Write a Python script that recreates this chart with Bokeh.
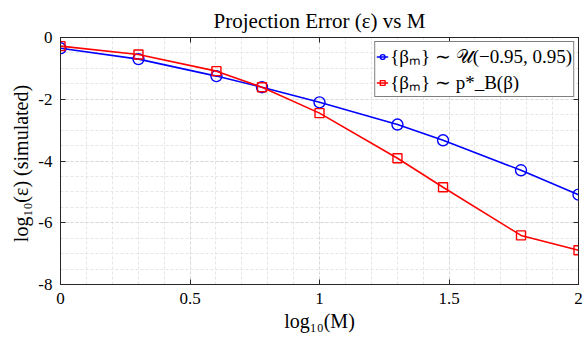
from bokeh.plotting import figure
from bokeh.models import Range1d, LinearAxis, FixedTicker, Legend, LegendItem
from bokeh.embed import file_html
from bokeh.resources import INLINE

# data
log_M = [0.0, 0.301, 0.602, 0.778, 1.0, 1.301, 1.477, 1.778, 2.0]
err_uniform = [-0.35, -0.70, -1.25, -1.61, -2.10, -2.82, -3.33, -4.30, -5.09]
err_pb = [-0.28, -0.55, -1.09, -1.61, -2.45, -3.91, -4.85, -6.41, -6.89]
x_ticks = [0, 0.5, 1, 1.5, 2]
x_tick_labels = ["0", "0.5", "1", "1.5", "2"]
y_ticks = [-8, -6, -4, -2, 0]
y_tick_labels = ["-8", "-6", "-4", "-2", "0"]
x_minor = [i / 10 for i in range(0, 21)]
y_minor = [-8 + i / 2 for i in range(0, 17)]
label_uniform = "{βₘ} ∼ 𝒰(−0.95, 0.95)"
label_pb = "{βₘ} ∼ p*_B(β)"

FONT = "Liberation Serif"
AX = "#262626"

p = figure(width=587, height=337, output_backend="svg", toolbar_location=None,
           x_range=Range1d(0, 2), y_range=Range1d(-8, 0),
           min_border_left=60, min_border_right=9, min_border_top=37, min_border_bottom=53)
p.title.text = "Projection Error (ε) vs M"
p.title.align = "center"
p.title.text_font = FONT
p.title.text_font_size = "21px"
p.title.text_font_style = "normal"
p.title.text_color = "#000000"
p.title.standoff = 2
p.outline_line_color = AX
p.outline_line_width = 1

xt = FixedTicker(ticks=x_ticks, minor_ticks=x_minor)
yt = FixedTicker(ticks=y_ticks, minor_ticks=y_minor)

for ax in p.xaxis:
    ax.ticker = xt
    ax.major_label_overrides = dict(zip(x_ticks, x_tick_labels))
for ax in p.yaxis:
    ax.ticker = yt
    ax.major_label_overrides = dict(zip(y_ticks, y_tick_labels))

p.xaxis.axis_label = "log₁₀(M)"
p.yaxis.axis_label = "log₁₀(ε)  (simulated)"

for ax in list(p.xaxis) + list(p.yaxis):
    ax.axis_label_text_font = FONT
    ax.axis_label_text_font_size = "20px"
    ax.axis_label_text_font_style = "normal"
    ax.axis_label_text_color = "#000000"
    ax.major_label_text_font = FONT
    ax.major_label_text_font_size = "17px"
    ax.major_label_text_color = "#000000"
    ax.axis_line_color = AX
    ax.major_tick_line_color = AX
    ax.major_tick_in = 5
    ax.major_tick_out = 0
    ax.minor_tick_line_color = None
    ax.axis_label_standoff = 3
    ax.major_label_standoff = 4

top = LinearAxis(ticker=xt, major_label_overrides={t: "" for t in x_ticks},
                 major_tick_in=5, major_tick_out=0,
                 minor_tick_line_color=None, axis_line_color=AX, major_tick_line_color=AX,
                 major_label_standoff=0)
right = LinearAxis(ticker=yt, major_label_overrides={t: "" for t in y_ticks},
                   major_tick_in=5, major_tick_out=0,
                   minor_tick_line_color=None, axis_line_color=AX, major_tick_line_color=AX,
                   major_label_standoff=0)
p.add_layout(top, "above")
p.add_layout(right, "right")

for g in list(p.xgrid) + list(p.ygrid):
    g.grid_line_color = "#d9d9d9"
    g.grid_line_dash = "3 2"
    g.grid_line_width = 1
    g.minor_grid_line_color = "#e6e6e6"
    g.minor_grid_line_dash = "3 2"
    g.minor_grid_line_width = 1

l1 = p.line(log_M, err_uniform, color="#0000ff", line_width=1.6)
m1 = p.scatter(log_M, err_uniform, marker="circle", size=11, fill_color=None,
               line_color="#0000ff", line_width=1.4)
l2 = p.line(log_M, err_pb, color="#ff0000", line_width=1.6)
m2 = p.scatter(log_M, err_pb, marker="square", size=9, fill_color=None,
               line_color="#ff0000", line_width=1.4)

legend = Legend(items=[LegendItem(label=label_uniform, renderers=[l1, m1]),
                       LegendItem(label=label_pb, renderers=[l2, m2])],
                location="top_right")
legend.label_text_font = FONT
legend.label_text_font_size = "19px"
legend.label_text_color = "#000000"
legend.border_line_color = "#000000"
legend.border_line_width = 1
legend.background_fill_color = "#ffffff"
legend.background_fill_alpha = 1
legend.margin = 4
legend.padding = 1
legend.spacing = 0
legend.glyph_width = 12
legend.glyph_height = 21
legend.label_standoff = 2
legend.label_height = 21
p.add_layout(legend)

open("out.html", "w").write(file_html(p, INLINE))
